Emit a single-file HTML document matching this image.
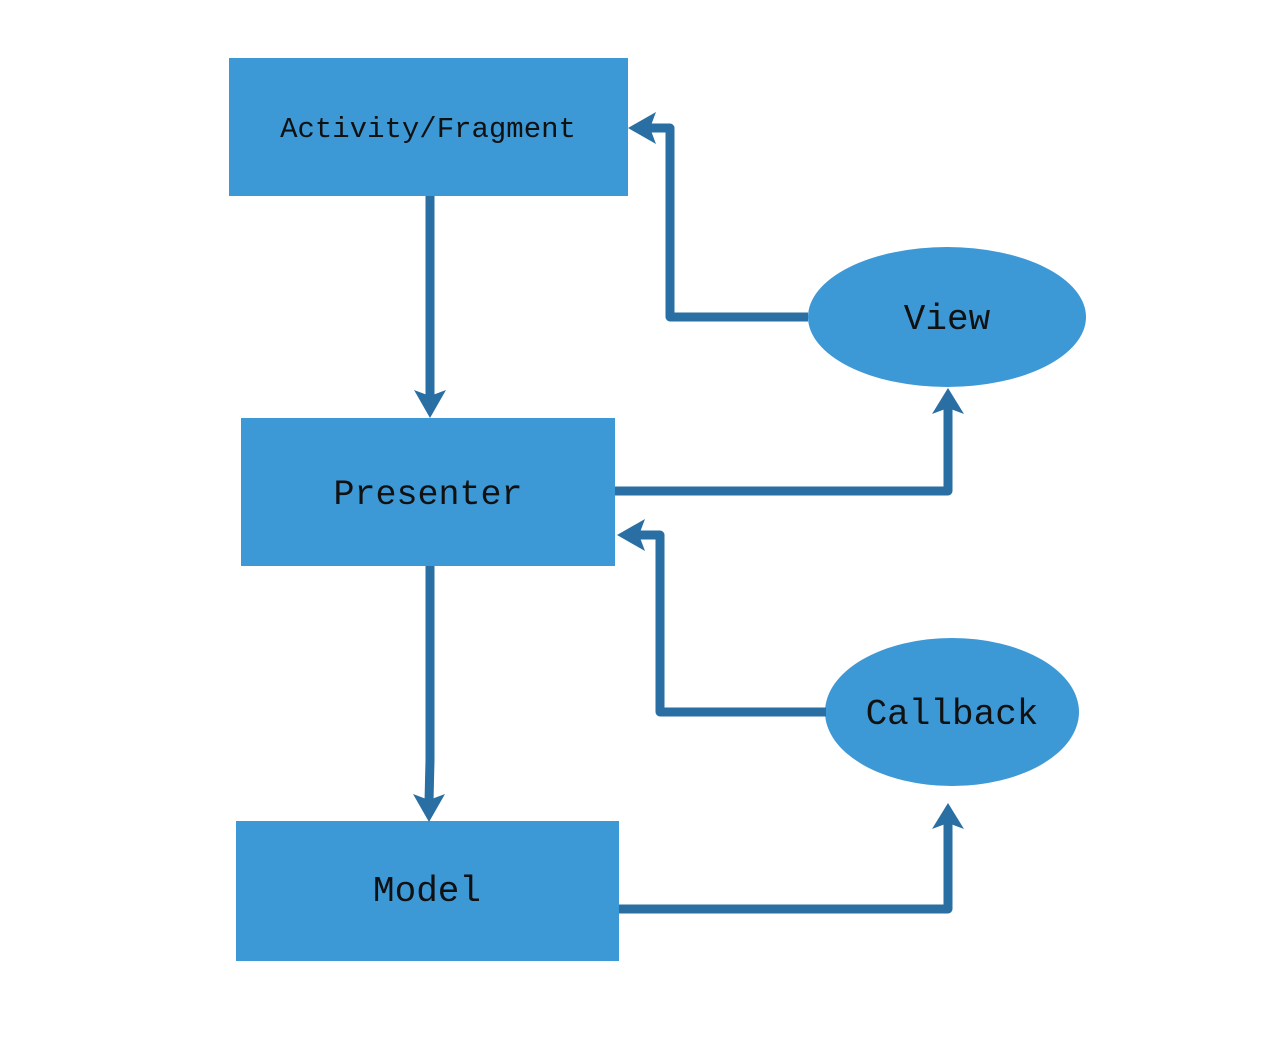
<!DOCTYPE html>
<html><head><meta charset="utf-8"><style>html,body{margin:0;padding:0;background:#fff}</style></head>
<body>
<svg width="1262" height="1036" viewBox="0 0 1262 1036" xmlns="http://www.w3.org/2000/svg">
<g fill="#3d98d6">
<rect x="229" y="58" width="399" height="138"/>
<rect x="241" y="418" width="374" height="148"/>
<rect x="236" y="821" width="383" height="140"/>
<ellipse cx="947" cy="317" rx="139" ry="70"/>
<ellipse cx="952" cy="712" rx="127" ry="74"/>
</g>
<g fill="none" stroke="#2a6fa3" stroke-width="9" stroke-linejoin="round">
<path d="M430,196 L430,400"/>
<path d="M808,317 L670,317 L670,128 L648,128"/>
<path d="M615,491 L948,491 L948,406"/>
<path d="M826,712 L660,712 L660,535 L637,535"/>
<path d="M430,566 L430,760 L429,802"/>
<path d="M619,909 L948,909 L948,821"/>
</g>
<g fill="#2a6fa3">
<polygon points="430,418 414,390 430,396 446,390"/>
<polygon points="628,128 656,112 650,128 656,144"/>
<polygon points="948,388 932,414 948,408 964,414"/>
<polygon points="617,535 645,519 639,535 645,551"/>
<polygon points="429,822 413,794 429,800 445,794"/>
<polygon points="948,803 932,829 948,823 964,829"/>
</g>
<g font-family="'Liberation Mono', monospace" fill="#111" text-anchor="middle">
<text x="428" y="137" font-size="29">Activity/Fragment</text>
<text x="428" y="504" font-size="35">Presenter</text>
<text x="427" y="901" font-size="36">Model</text>
<text x="947" y="329" font-size="36">View</text>
<text x="952" y="724" font-size="36">Callback</text>
</g>
</svg>
</body></html>
